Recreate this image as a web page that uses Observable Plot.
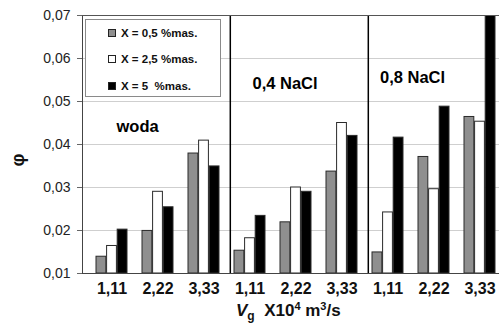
<!DOCTYPE html>
<html>
<head>
<meta charset="utf-8">
<script src="https://cdn.jsdelivr.net/npm/d3@7"></script>
<script src="https://cdn.jsdelivr.net/npm/@observablehq/plot@0.6"></script>
<style>
  html, body { margin: 0; padding: 0; background: #fff; overflow: hidden; }
  #wrap { position: relative; width: 499px; height: 324px; font-family: Arial, "Liberation Sans", sans-serif; }
  #legend { position: absolute; left: 85px; top: 19px; width: 134px; height: 76px; border: 1px solid #8a8a8a; background: #fff; }
  .item { position: absolute; left: 22px; height: 14px; font-size: 11.5px; font-weight: bold; color: #111; white-space: pre; line-height: 14px; }
  .sw { position: absolute; left: 0; top: 3px; width: 6px; height: 6px; border: 1px solid #222; }
  .item span.t { position: absolute; left: 13px; top: 0; }
  #xlabel { position: absolute; left: 236px; top: 302px; font-size: 17px; font-weight: bold; white-space: pre; line-height: 17px; color: #111; }
  #xlabel .sub { position: relative; top: 4px; font-size: 12px; }
  #xlabel .sup { position: relative; top: -6px; font-size: 11px; }
  #ylabel { position: absolute; left: 12px; top: 151px; font-size: 18px; font-weight: bold; transform: rotate(-90deg); transform-origin: center; line-height: 18px; color: #111; }
</style>
</head>
<body>
<div id="wrap"></div>
<script>
// ---- data ----
const groups = ["woda", "0,4 NaCl", "0,8 NaCl"];
const vgLabels = ["1,11", "2,22", "3,33"];
const categories = groups.flatMap(g => vgLabels.map(v => g + "|" + v));
const seriesNames = ["X = 0,5 %mas.", "X = 2,5 %mas.", "X = 5  %mas."];
const s05 = [0.0139, 0.0199, 0.0379, 0.0153, 0.0219, 0.0337, 0.0149, 0.0371, 0.0464];
const s25 = [0.0164, 0.0290, 0.0409, 0.0182, 0.0300, 0.0450, 0.0242, 0.0296, 0.0453];
const s5  = [0.0202, 0.0254, 0.0349, 0.0234, 0.0290, 0.0420, 0.0416, 0.0488, 0.0720];
const yTicks = [0.01, 0.02, 0.03, 0.04, 0.05, 0.06, 0.07];

// ---- layout ----
const W = 499, H = 324, mL = 82, mR = 0, mT = 15, mB = 51;
const pI = 0.318, pO = 0.133;
const step = (W - mL - mR) / (categories.length - pI + 2 * pO);
const bw = step * (1 - pI);
const barW = bw / 3;

const seriesVals = [s05, s25, s5];
const fills = ["#8f8f8f", "#ffffff", "#000000"];
const rows = seriesVals.map(vals => categories.map((c, i) => ({cat: c, v: vals[i]})));

const fmt = d => d.toFixed(2).replace(".", ",");

const barMarks = rows.map((data, k) => Plot.barY(data, {
  x: "cat", y1: () => 0.01, y2: "v",
  fill: fills[k], stroke: "#2a2a2a", strokeWidth: 1,
  insetLeft: k * barW, insetRight: (2 - k) * barW,
  clip: true
}));

const labelFont = {fontSize: 16.5, fontWeight: "bold", fill: "#000", textAnchor: "start"};

const chart = Plot.plot({
  width: W, height: H,
  marginLeft: mL, marginRight: mR, marginTop: mT, marginBottom: mB,
  x: {domain: categories, paddingInner: pI, paddingOuter: pO, align: 0.78, axis: null},
  y: {domain: [0.01, 0.07], axis: null},
  style: {fontFamily: "Arial, 'Liberation Sans', sans-serif", background: "#fff", overflow: "visible"},
  marks: [
    Plot.gridY(yTicks, {stroke: "#cfcfcf", strokeOpacity: 1}),
    ...barMarks,
    Plot.ruleX([categories[2], categories[5]], {dx: step / 2 + 3, stroke: "#000", strokeWidth: 1.5}),
    Plot.frame({anchor: "left", stroke: "#444"}),
    Plot.frame({anchor: "top", stroke: "#555"}),
    Plot.frame({anchor: "bottom", stroke: "#444"}),
    Plot.text([groups[0]], {x: () => categories[0], y: () => 0.0441, text: d => d, dx: 4.5, ...labelFont}),
    Plot.text([groups[1]], {x: () => categories[3], y: () => 0.0541, text: d => d, dx: 2.5, ...labelFont}),
    Plot.text([groups[2]], {x: () => categories[6], y: () => 0.0555, text: d => d, dx: -8, ...labelFont}),
    Plot.axisY({ticks: yTicks, tickFormat: fmt, tickSize: 5, tickPadding: 7, fontSize: 14, stroke: "#666", fill: "#222", label: null}),
    Plot.axisX({tickFormat: d => d.split("|")[1], tickSize: 0, tickPadding: 9, fontSize: 16, fontWeight: "bold", fill: "#111", label: null})
  ]
});

const wrap = document.getElementById("wrap");
wrap.appendChild(chart);

// legend
const legend = document.createElement("div");
legend.id = "legend";
const legendTops = [6, 32, 59];
seriesNames.forEach((name, k) => {
  const it = document.createElement("div");
  it.className = "item";
  it.style.top = legendTops[k] + "px";
  const sw = document.createElement("div");
  sw.className = "sw";
  sw.style.background = fills[k];
  const t = document.createElement("span");
  t.className = "t";
  t.textContent = name;
  it.appendChild(sw);
  it.appendChild(t);
  legend.appendChild(it);
});
wrap.appendChild(legend);

// axis titles
const xl = document.createElement("div");
xl.id = "xlabel";
xl.innerHTML = '<i>V</i><span class="sub">g</span>  X10<span class="sup">4</span> m<span class="sup">3</span>/s';
wrap.appendChild(xl);

const yl = document.createElement("div");
yl.id = "ylabel";
yl.textContent = "φ";
wrap.appendChild(yl);
</script>
</body>
</html>
